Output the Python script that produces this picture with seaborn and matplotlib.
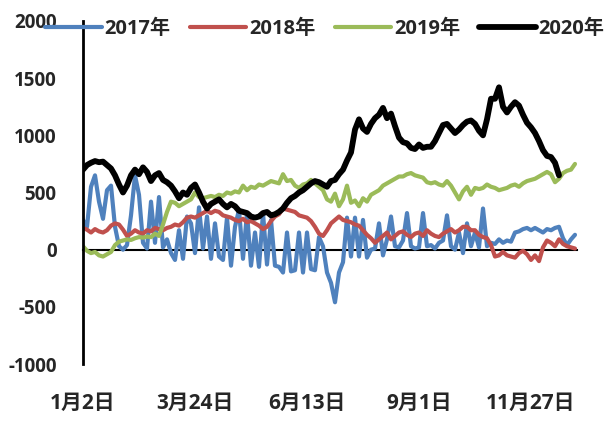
import numpy as np
import pandas as pd
import matplotlib
matplotlib.use("Agg")
import matplotlib.pyplot as plt
import seaborn as sns

# ---------------- data ----------------
tick_labels = ["1月2日", "3月24日", "6月13日", "9月1日", "11月27日"]
tick_step = 28
years = ["2017年", "2018年", "2019年", "2020年"]

s2017 = [260, 200, 550, 650, 420, 270, 520, 560, 200, 30,
         0, 40, 300, 650, 480, 60, 10, 420, 60, 460,
         20, 90, -30, -90, 170, -80, 290, 230, -30, 370,
         10, 290, -80, 230, -60, -90, 280, -140, 200, 350,
         -80, 320, -140, 150, -150, 320, -130, 260, -140, -150,
         -200, 150, -190, -180, 150, -200, 150, -170, -180, 110,
         30, -200, -290, -460, -200, -110, 280, -60, 280, -60,
         260, -70, 0, 10, 230, -50, 90, 290, 30, 20,
         80, 320, 30, 10, 20, 320, 30, 40, 10, 60,
         80, 300, 30, 0, 150, -30, 230, 30, 150, 20,
         360, 30, 60, 50, 90, 60, 80, 70, 150, 160,
         180, 190, 170, 190, 170, 150, 180, 170, 190, 200,
         100, 40, 90, 130]

s2018 = [190, 175, 150, 180, 160, 150, 170, 210, 230, 220,
         175, 120, 140, 170, 150, 140, 170, 160, 190, 180,
         170, 190, 200, 220, 210, 240, 280, 290, 280, 300,
         320, 340, 320, 340, 330, 300, 290, 280, 260, 250,
         270, 240, 250, 230, 210, 180, 200, 250, 290, 310,
         360, 350, 340, 330, 300, 290, 280, 250, 200, 140,
         120, 170, 230, 260, 290, 260, 250, 240, 220, 210,
         170, 130, 100, 60, 90, 120, 150, 90, 120, 150,
         160, 130, 110, 140, 150, 120, 170, 140, 120, 110,
         140, 160, 180, 150, 170, 200, 200, 170, 170, 130,
         110, 100, 40, -60, -50, -20, -50, -60, -70, -30,
         -10, -40, -90, -50, -100, 20, 80, 60, 30, 90,
         50, 30, 20, 10]

s2019 = [30, -10, -30, -20, -50, -60, -40, -20, 40, 70,
         80, 90, 85, 100, 110, 105, 115, 110, 140, 120,
         220, 330, 420, 410, 380, 400, 420, 440, 500, 460,
         450, 460, 470, 460, 480, 470, 500, 490, 510, 500,
         560, 520, 550, 540, 570, 560, 580, 600, 590, 580,
         660, 600, 610, 560, 540, 570, 580, 610, 580, 550,
         520, 440, 420, 490, 380, 440, 560, 410, 430, 380,
         450, 420, 480, 500, 520, 560, 580, 600, 620, 640,
         640, 660, 670, 650, 640, 630, 590, 580, 590, 570,
         560, 600, 560, 500, 440, 510, 550, 480, 540, 530,
         540, 570, 550, 540, 520, 530, 540, 560, 570, 550,
         580, 600, 610, 620, 640, 660, 680, 660, 590, 620,
         670, 690, 700, 750]

s2020 = [700, 740, 760, 775, 765, 770, 740, 710, 650, 570,
         500, 560, 650, 700, 660, 720, 680, 600, 650, 670,
         610, 590, 560, 510, 450, 500, 480, 540, 570, 500,
         420, 360, 400, 420, 440, 400, 370, 400, 380, 340,
         330, 320, 290, 280, 290, 320, 330, 300, 310, 330,
         360, 410, 450, 470, 500, 520, 550, 580, 600, 590,
         570, 550, 600, 610, 660, 700, 780, 850, 1050, 1140,
         1060, 1030, 1100, 1150, 1180, 1240, 1150, 1190, 1080, 980,
         940, 930, 890, 880, 920, 890, 900, 900, 950, 1020,
         1090, 1100, 1060, 1020, 1050, 1090, 1120, 1130, 1100, 1040,
         1000, 1140, 1320, 1320, 1420, 1250, 1200, 1250, 1290, 1260,
         1180, 1110, 1070, 1020, 950, 870, 820, 810, 760, 650]

series = [s2017, s2018, s2019, s2020]

# ---------------- style ----------------
colors = ["#4F81BD", "#C0504D", "#9BBB59", "#000000"]
widths = [3.0, 3.0, 3.0, 4.2]

sns.set_style("white")
plt.rcParams["font.family"] = ["Open Sans", "Noto Sans CJK SC"]
plt.rcParams["font.weight"] = "bold"
plt.rcParams["axes.unicode_minus"] = False
FS_Y = 13.5
FS_X = 15
FS_L = 14.5

frames = []
for name, vals in zip(years, series):
    frames.append(pd.DataFrame({"idx": np.arange(len(vals)), "value": vals, "year": name}))
df = pd.concat(frames, ignore_index=True)

fig = plt.figure(figsize=(6.16, 4.21), dpi=100)
ax = fig.add_axes([83 / 616, 1 - 364 / 421, 494 / 616, 343 / 421])

handles = []
for name, col, lw in zip(years, colors, widths):
    sub = df[df["year"] == name]
    sns.lineplot(data=sub, x="idx", y="value", color=col, linewidth=lw, ax=ax,
                 legend=False, solid_joinstyle="round")
    handles.append(ax.lines[-1])

ax.set_xlabel("")
ax.set_ylabel("")
ax.set_ylim(-1000, 2000)
ax.set_xlim(0, 123.5)
ax.set_yticks(np.arange(-1000, 2001, 500))

n_ticks = len(tick_labels)
tick_pos = [i * tick_step for i in range(n_ticks)]

for s in ["top", "right"]:
    ax.spines[s].set_visible(False)
ax.spines["left"].set_linewidth(2)
ax.spines["left"].set_color("black")
ax.spines["bottom"].set_position(("data", 0))
ax.spines["bottom"].set_linewidth(1.5)
ax.spines["bottom"].set_color("black")
ax.spines["bottom"].set_zorder(0.5)

ax.set_xticks(tick_pos)
ax.tick_params(axis="x", direction="in", length=7, width=1.5, labelbottom=False, color="black")
ax.tick_params(axis="y", direction="in", length=6, width=2, pad=19, labelsize=FS_Y, color="black")
for t in ax.get_yticklabels():
    t.set_fontweight("bold")

sec = ax.secondary_xaxis("bottom")
sec.set_xticks(tick_pos, tick_labels)
sec.spines["bottom"].set_visible(False)
sec.tick_params(length=0, pad=21, labelsize=FS_X)
for t in sec.get_xticklabels():
    t.set_fontweight("bold")

fig.legend(handles, years, loc="center", bbox_to_anchor=(325 / 616, 1 - 29 / 421),
           ncol=4, frameon=False, handlelength=2.8, handletextpad=0.15,
           columnspacing=0.95, prop={"size": FS_L, "weight": "bold"})

fig.savefig("out.png", dpi=100)
